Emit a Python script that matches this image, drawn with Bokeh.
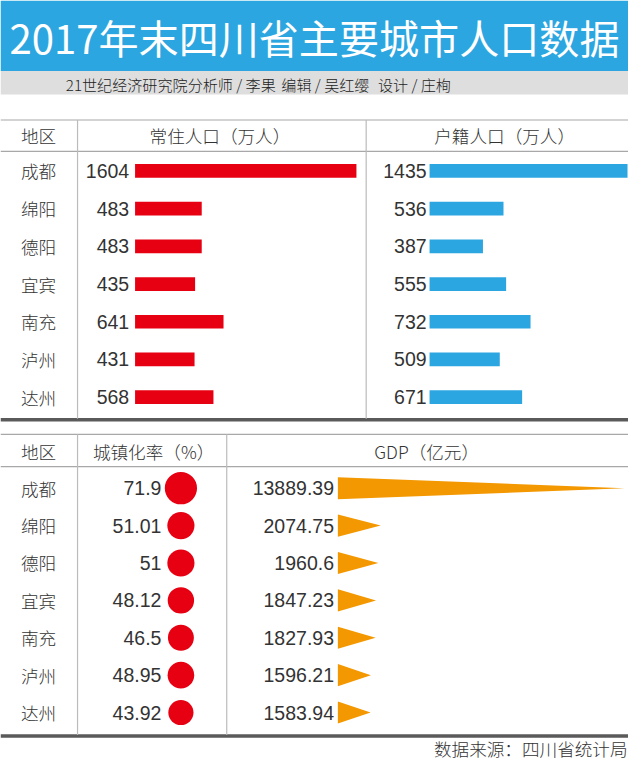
from bokeh.plotting import figure
from bokeh.models import Range1d, ColumnDataSource
from bokeh.core.properties import value
from bokeh.embed import file_html
from bokeh.resources import INLINE
import math

# ---------------- data ----------------
cities = ["成都", "绵阳", "德阳", "宜宾", "南充", "泸州", "达州"]
resident_pop = [1604, 483, 483, 435, 641, 431, 568]          # 常住人口（万人）
registered_pop = [1435, 536, 387, 555, 732, 509, 671]        # 户籍人口（万人）
urban_rate = [71.9, 51.01, 51, 48.12, 46.5, 48.95, 43.92]    # 城镇化率（%）
gdp = [13889.39, 2074.75, 1960.6, 1847.23, 1827.93, 1596.21, 1583.94]  # GDP（亿元）

title = "2017年末四川省主要城市人口数据"
credits = ["21世纪经济研究院分析师 / 李果", "编辑 / 吴红缨", "设计 / 庄栒"]
source_note = "数据来源：四川省统计局"
head_region = "地区"
head_resident = "常住人口（万人）"
head_registered = "户籍人口（万人）"
head_urban = "城镇化率（%）"
head_gdp = "GDP（亿元）"

# ---------------- layout (reference pixel units) ----------------
W, H = 644, 776
FW, FH = 628, 760
S = (FW / W + FH / H) / 2

CJK = value("Noto Sans CJK SC")
CJKL = value("Noto Sans CJK SC Light, Noto Sans CJK SC")
NUM = value("Liberation Sans")
RED = "#E60012"
BLUE = "#2CA6E0"
ORANGE = "#F39800"
TXT = "#333333"
GRID = "#A8A8A8"
THICK = "#5A5A5A"

def fs(px):
    return f"{px * S:.1f}px"

def fmt(v):
    return ("%.2f" % v).rstrip("0").rstrip(".")

p = figure(width=FW, height=FH, output_backend="svg", toolbar_location=None,
           x_range=Range1d(0, W), y_range=Range1d(H, 0), min_border=0)
p.axis.visible = False
p.grid.visible = False
p.outline_line_color = None
p.background_fill_color = "white"
p.border_fill_color = "white"

def xrange_for(px0, px1, vmax):
    k = (px1 - px0) / vmax
    return Range1d(-px0 / k, (W - px0) / k)

def yrange_for(y0, step):
    return Range1d((H - y0) / step, (0 - y0) / step)

p.extra_x_ranges = {
    "res": xrange_for(138, 365, max(resident_pop)),
    "reg": xrange_for(440, 643, max(registered_pop)),
    "gdp": xrange_for(346, 640, max(gdp)),
}
TOP_Y0, TOP_STEP = 174, 38.5
BOT_Y0, BOT_STEP = 498, 38.17
p.extra_y_ranges = {
    "top": yrange_for(TOP_Y0, TOP_STEP),
    "bot": yrange_for(BOT_Y0, BOT_STEP),
}

# ---------------- header bands ----------------
p.quad(left=0, right=W, top=0, bottom=72, fill_color=BLUE, line_color=None)
p.quad(left=0, right=W, top=72, bottom=96, fill_color="#DEDEDE", line_color=None)
p.text(x=[322], y=[37], text=[title], text_font=CJK, text_font_size=fs(41),
       text_color="white", text_align="center", text_baseline="middle")
p.text(x=[67, 288, 387], y=[85, 85, 85], text=credits, text_font=CJKL,
       text_font_size=fs(15.5), text_color="#222222", text_align="left",
       text_baseline="middle")

# ---------------- table lines ----------------
hy = [122, 154, 443, 476]
p.segment(x0=[0] * 4, y0=hy, x1=[W] * 4, y1=hy, line_color=GRID, line_width=1.2)
p.segment(x0=[0, 0], y0=[428, 751], x1=[W, W], y1=[428, 751],
          line_color=THICK, line_width=3.5)
vx = [79, 375, 79, 232]
p.segment(x0=vx, y0=[122, 122, 443, 443], x1=vx, y1=[427, 427, 750, 750],
          line_color="#BBBBBB", line_width=1.2)

# headers
p.text(x=[39, 225, 517], y=[138, 138, 138],
       text=[head_region, head_resident, head_registered],
       text_font=CJKL, text_font_size=fs(18), text_color=TXT,
       text_align="center", text_baseline="middle")
p.text(x=[39, 157, 437], y=[460, 460, 460],
       text=[head_region, head_urban, head_gdp],
       text_font=CJKL, text_font_size=fs(18), text_color=TXT,
       text_align="center", text_baseline="middle")

rows = list(range(len(cities)))

# ---------------- top section ----------------
top = ColumnDataSource(dict(
    row=rows, city=cities, res=resident_pop, reg=registered_pop,
    res_txt=[fmt(v) for v in resident_pop],
    reg_txt=[fmt(v) for v in registered_pop],
    zero=[0] * len(cities),
    lab_x=[39] * len(cities),
))
p.text(x="lab_x", y="row", text="city", source=top, y_range_name="top",
       text_font=CJKL, text_font_size=fs(18), text_color=TXT,
       text_align="center", text_baseline="middle")
p.hbar(y="row", left=0, right="res", height=14 / TOP_STEP, source=top,
       x_range_name="res", y_range_name="top", fill_color=RED, line_color=None)
p.text(x="zero", y="row", text="res_txt", source=top, x_range_name="res",
       y_range_name="top", x_offset=-6 * S, text_font=NUM, text_font_size=fs(20),
       text_color=TXT, text_align="right", text_baseline="middle")
p.hbar(y="row", left=0, right="reg", height=14 / TOP_STEP, source=top,
       x_range_name="reg", y_range_name="top", fill_color=BLUE, line_color=None)
p.text(x="zero", y="row", text="reg_txt", source=top, x_range_name="reg",
       y_range_name="top", x_offset=-3 * S, text_font=NUM, text_font_size=fs(20),
       text_color=TXT, text_align="right", text_baseline="middle")

# ---------------- bottom section ----------------
half = 11.3 / BOT_STEP
bot = ColumnDataSource(dict(
    row=rows, city=cities, rate=urban_rate, gdp=gdp,
    rate_txt=[fmt(v) for v in urban_rate],
    gdp_txt=[fmt(v) for v in gdp],
    size=[3.89 * math.sqrt(v) * S for v in urban_rate],
    zero=[0] * len(cities),
    lab_x=[39] * len(cities),
    rate_x=[165] * len(cities),
    dot_x=[185] * len(cities),
    tri_x=[[0, v, 0] for v in gdp],
    tri_y=[[r - half, r, r + half] for r in rows],
))
p.text(x="lab_x", y="row", text="city", source=bot, y_range_name="bot",
       text_font=CJKL, text_font_size=fs(18), text_color=TXT,
       text_align="center", text_baseline="middle")
p.text(x="rate_x", y="row", text="rate_txt", source=bot, y_range_name="bot",
       text_font=NUM, text_font_size=fs(20), text_color=TXT,
       text_align="right", text_baseline="middle")
p.scatter(x="dot_x", y="row", size="size", source=bot, y_range_name="bot",
          marker="circle", fill_color=RED, line_color=None)
p.patches(xs="tri_x", ys="tri_y", source=bot, x_range_name="gdp",
          y_range_name="bot", fill_color=ORANGE, line_color=None)
p.text(x="zero", y="row", text="gdp_txt", source=bot, x_range_name="gdp",
       y_range_name="bot", x_offset=-4 * S, text_font=NUM, text_font_size=fs(20),
       text_color=TXT, text_align="right", text_baseline="middle")

# source note
p.text(x=[643], y=[764], text=[source_note], text_font=CJKL,
       text_font_size=fs(18), text_color=TXT, text_align="right",
       text_baseline="middle")

open("out.html", "w").write(file_html(p, INLINE))
